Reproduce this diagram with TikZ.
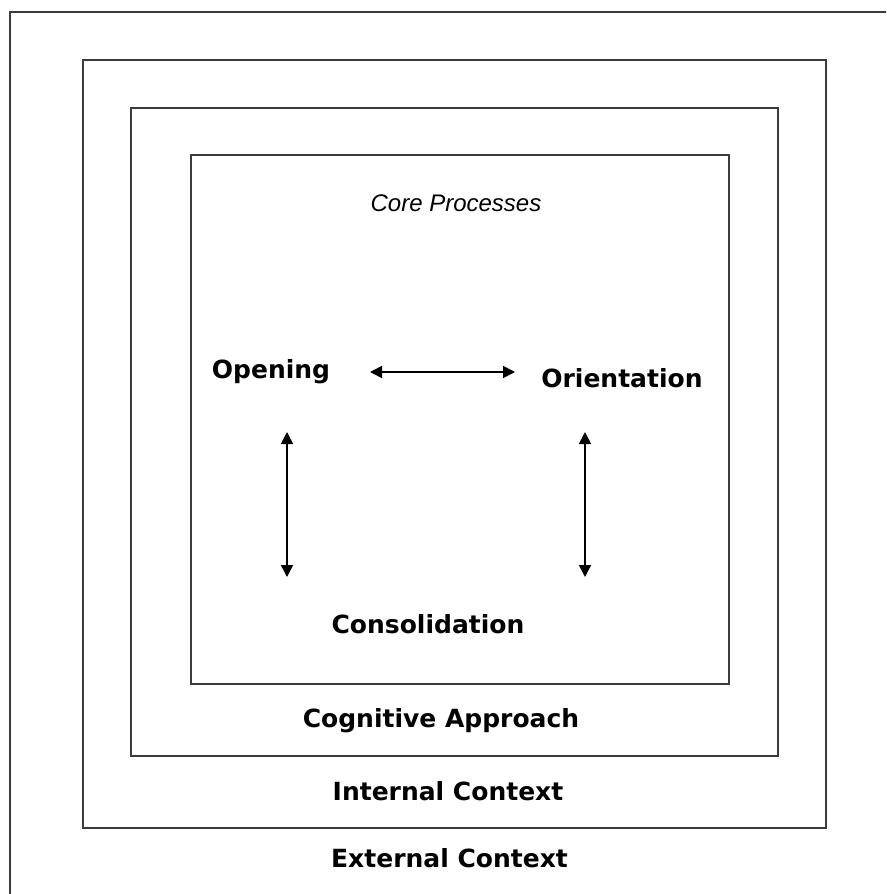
\documentclass[tikz,border=0pt]{standalone}
\usepackage{fontspec}
\setmainfont{DejaVu Sans}
\newfontfamily\coreitfont{Liberation Sans}
\usetikzlibrary{arrows.meta}
\definecolor{boxgray}{HTML}{3C3C3C}
\tikzset{
  frame/.style={draw=boxgray, line width=2pt},
  lbl/.style={inner sep=0pt, anchor=base, font=\bfseries\fontsize{25pt}{30pt}\selectfont},
  corelbl/.style={inner sep=0pt, anchor=base, font=\coreitfont\itshape\fontsize{24pt}{29pt}\selectfont},
  link/.style={line width=1.6pt, {Triangle[length=12pt,width=12pt]}-{Triangle[length=12pt,width=12pt]}}
}
\begin{document}
\begin{tikzpicture}[x=1pt,y=-1pt]
\useasboundingbox (0,0) rectangle (886,894);
\clip (0,0) rectangle (886,894);
\fill[white] (0,0) rectangle (886,894);
% boxes
\draw[frame] (10,12) rectangle (910,920);
\draw[frame] (83,60) rectangle (826,828);
\draw[frame] (131,108) rectangle (778,756);
\draw[frame] (191,155) rectangle (729,684);
% labels
\node[corelbl] (core) at (456,211) {Core Processes};
\node[lbl] (opening) at (271,378) {Opening};
\node[lbl] (orientation) at (622,387) {Orientation};
\node[lbl] (consolidation) at (428,633) {Consolidation};
\node[lbl] (cognitive) at (441,727) {Cognitive Approach};
\node[lbl] (internal) at (448,800) {Internal Context};
\node[lbl] (external) at (449.5,867) {External Context};
% arrow endpoints
\coordinate (h1) at (370,372);
\coordinate (h2) at (515,372);
\coordinate (l1) at (287,432);
\coordinate (l2) at (287,577);
\coordinate (r1) at (585,432);
\coordinate (r2) at (585,577);
\draw[link] (h1) -- (h2);
\draw[link] (l1) -- (l2);
\draw[link] (r1) -- (r2);
\end{tikzpicture}
\end{document}
